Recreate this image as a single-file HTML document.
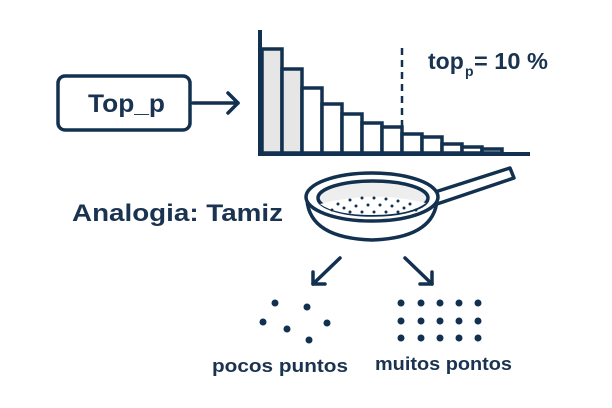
<!DOCTYPE html>
<html><head><meta charset="utf-8"><style>
html,body{margin:0;padding:0;background:#fff;}
svg{display:block}
text{font-family:"Liberation Sans",sans-serif;font-weight:bold;fill:#1a3350}
</style></head><body>
<svg width="612" height="408" viewBox="0 0 612 408" xmlns="http://www.w3.org/2000/svg">
<g stroke="#12304f" stroke-width="3.5" fill="none" stroke-linecap="round" stroke-linejoin="round">
<rect x="58" y="76" width="132" height="54" rx="7"/>
<line x1="193" y1="103" x2="238" y2="103"/>
<polyline points="228,93 238,103 228,113"/>
</g>
<text x="88" y="112" font-size="25" textLength="77" lengthAdjust="spacingAndGlyphs">Top_p</text>
<g stroke="#12304f" stroke-width="3.5">
<rect x="262" y="49" width="20" height="104" fill="#e6e6e6"/>
<rect x="282" y="69" width="20" height="84" fill="#e6e6e6"/>
<rect x="302" y="88" width="20" height="65" fill="#fff"/>
<rect x="322" y="104" width="20" height="49" fill="#fff"/>
<rect x="342" y="114" width="20" height="39" fill="#fff"/>
<rect x="362" y="123" width="20" height="30" fill="#fff"/>
<rect x="382" y="127" width="20" height="26" fill="#fff"/>
<rect x="402" y="134" width="20" height="19" fill="#fff"/>
<rect x="422" y="137" width="20" height="16" fill="#fff"/>
<rect x="442" y="144" width="20" height="9" fill="#fff"/>
<rect x="462" y="147" width="20" height="6" fill="#fff"/>
<rect x="482" y="149" width="20" height="4" fill="#fff"/>
<line x1="260" y1="30" x2="260" y2="155" stroke-width="4"/>
<line x1="258" y1="154" x2="530" y2="154" stroke-width="4"/>
<line x1="402" y1="48" x2="402" y2="127" stroke-width="2.5" stroke-dasharray="7,5"/>
</g>
<text x="428" y="69" font-size="23">top</text>
<text x="465" y="76" font-size="14">p</text>
<text x="474" y="69" font-size="23" textLength="74" lengthAdjust="spacingAndGlyphs">= 10 %</text>
<text x="72" y="221" font-size="24" textLength="211" lengthAdjust="spacingAndGlyphs">Analogia: Tamiz</text>
<g stroke="#12304f" stroke-width="3.5" fill="none" stroke-linecap="round" stroke-linejoin="round">
<path d="M435,192 L510,168 L514,178 L437,204" fill="#fff"/>
<path d="M307,200 Q310,238 372,240 Q434,238 437,200" fill="#fff"/>
<ellipse cx="372" cy="197" rx="66" ry="24" fill="#fff"/>
<ellipse cx="373" cy="198" rx="55" ry="17" fill="#eee"/>
<path d="M320,204 Q372,190 426,203 Q410,215 373,215 Q335,215 320,204Z" fill="#fff" stroke="none"/>
<line x1="340" y1="258" x2="313" y2="284"/>
<polyline points="313,272 313,284 325,284"/>
<line x1="405" y1="258" x2="432" y2="284"/>
<polyline points="420,284 432,284 432,272"/>
</g>
<g fill="#12304f">
<circle cx="338" cy="204" r="1.5"/><circle cx="350" cy="200" r="1.5"/><circle cx="362" cy="198" r="1.5"/><circle cx="374" cy="198" r="1.5"/><circle cx="386" cy="199" r="1.5"/><circle cx="398" cy="201" r="1.5"/><circle cx="410" cy="204" r="1.5"/>
<circle cx="332" cy="210" r="1.5"/><circle cx="344" cy="208" r="1.5"/><circle cx="356" cy="206" r="1.5"/><circle cx="368" cy="205" r="1.5"/><circle cx="380" cy="205" r="1.5"/><circle cx="392" cy="206" r="1.5"/><circle cx="404" cy="208" r="1.5"/><circle cx="416" cy="210" r="1.5"/>
<circle cx="350" cy="212" r="1.5"/><circle cx="362" cy="212" r="1.5"/><circle cx="374" cy="212" r="1.5"/><circle cx="386" cy="212" r="1.5"/><circle cx="398" cy="212" r="1.5"/>
<circle cx="275" cy="303" r="3.5"/><circle cx="307" cy="307" r="3.5"/><circle cx="263" cy="322" r="3.5"/><circle cx="287" cy="329" r="3.5"/><circle cx="327" cy="323" r="3.5"/><circle cx="309" cy="340" r="3.5"/>
<circle cx="401" cy="303" r="3.5"/><circle cx="421" cy="303" r="3.5"/><circle cx="440" cy="303" r="3.5"/><circle cx="459" cy="303" r="3.5"/><circle cx="478" cy="303" r="3.5"/>
<circle cx="401" cy="321" r="3.5"/><circle cx="421" cy="321" r="3.5"/><circle cx="440" cy="321" r="3.5"/><circle cx="459" cy="321" r="3.5"/><circle cx="478" cy="321" r="3.5"/>
<circle cx="401" cy="338" r="3.5"/><circle cx="421" cy="338" r="3.5"/><circle cx="440" cy="338" r="3.5"/><circle cx="459" cy="338" r="3.5"/><circle cx="478" cy="338" r="3.5"/>
</g>
<text x="212" y="372" font-size="18" textLength="136" lengthAdjust="spacingAndGlyphs">pocos puntos</text>
<text x="375" y="370" font-size="18" textLength="137" lengthAdjust="spacingAndGlyphs">muitos pontos</text>
</svg>
</body></html>
